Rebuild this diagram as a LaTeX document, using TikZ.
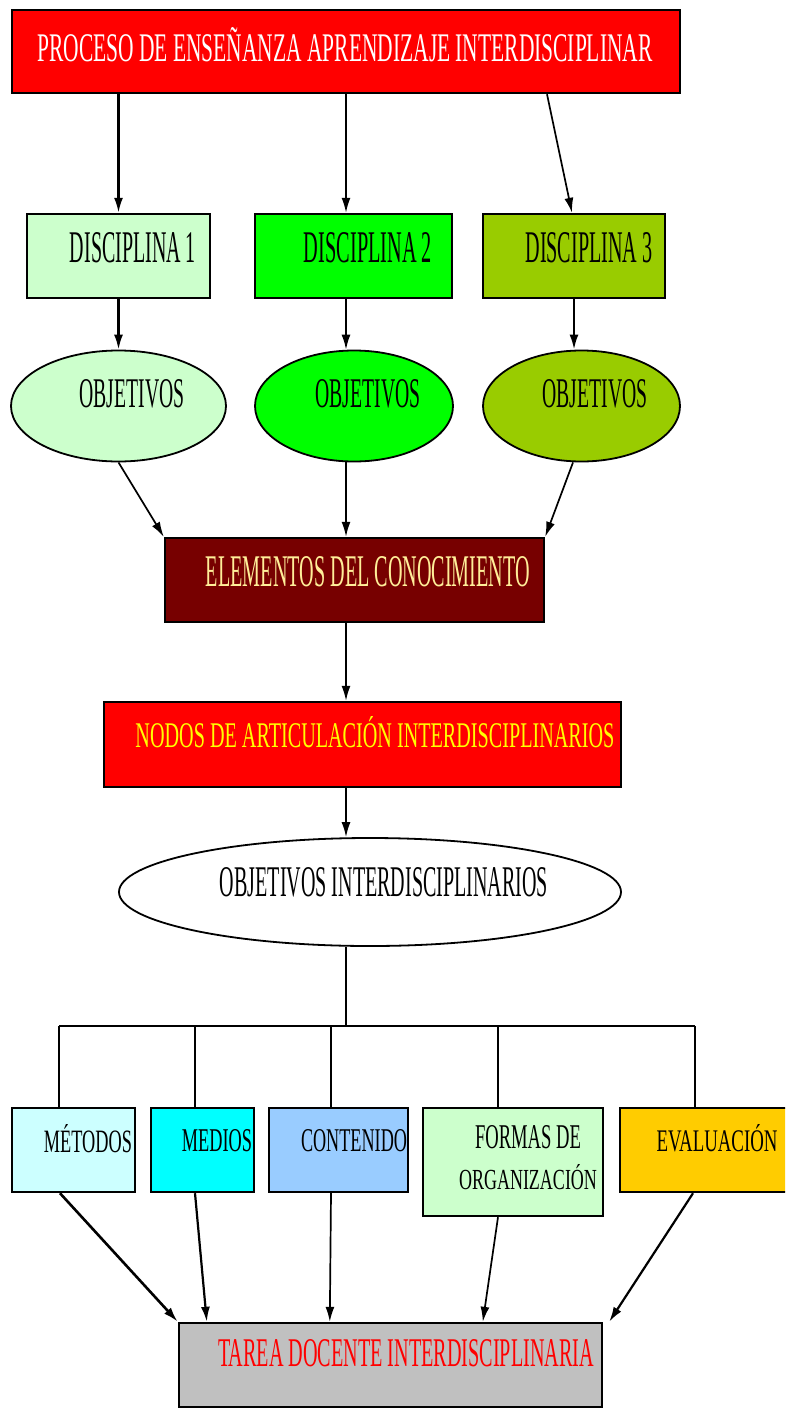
\documentclass[tikz,border=0pt]{standalone}
\usepackage{fontspec}
\setmainfont{Liberation Serif}
\usetikzlibrary{shapes.geometric,arrows.meta}
\definecolor{cRed}{HTML}{FF0000}
\definecolor{cLightGreen}{HTML}{CCFFCC}
\definecolor{cGreen}{HTML}{00FF00}
\definecolor{cOlive}{HTML}{99CC00}
\definecolor{cMaroon}{HTML}{770000}
\definecolor{cPaleYellow}{HTML}{FFEE99}
\definecolor{cYellow}{HTML}{FFFF00}
\definecolor{cLightCyan}{HTML}{CCFFFF}
\definecolor{cCyan}{HTML}{00FFFF}
\definecolor{cSky}{HTML}{99CCFF}
\definecolor{cGold}{HTML}{FFCC00}
\definecolor{cGray}{HTML}{C0C0C0}
\newcommand{\rtxt}[3]{\resizebox{#1pt}{#2pt}{#3}}
\tikzset{
  boxnode/.style={draw=black, line width=2.4pt, rectangle, inner sep=0pt},
  ellnode/.style={draw=black, line width=1.8pt, ellipse, inner sep=0pt},
  txt/.style={inner sep=0pt, anchor=center},
  arr/.style={line width=1.7pt, -{Latex[length=15pt,width=9pt]}},
  plain/.style={line width=1.6pt}
}
\begin{document}
\begin{tikzpicture}[x=1pt,y=-1pt]
\useasboundingbox (0,0) rectangle (785,1410);
\clip (0,0) rectangle (785,1410);
% top
\node[boxnode, fill=cRed, minimum width=668pt, minimum height=83pt] (top) at (346,51.5) {};
\node[txt, text=white] (toptxt) at (345,45) {\rtxt{615}{34}{PROCESO DE ENSEÑANZA APRENDIZAJE INTERDISCIPLINAR}};
% disciplines
\node[boxnode, fill=cLightGreen, minimum width=183pt, minimum height=84pt] (d1) at (118.5,256) {};
\node[boxnode, fill=cGreen, minimum width=197pt, minimum height=84pt] (d2) at (353.5,256) {};
\node[boxnode, fill=cOlive, minimum width=182pt, minimum height=84pt] (d3) at (574,256) {};
\node[txt] (d1t) at (133,248) {\rtxt{126}{30}{DISCIPLINA 1}};
\node[txt] (d2t) at (368,248) {\rtxt{128}{30}{DISCIPLINA 2}};
\node[txt] (d3t) at (589,248) {\rtxt{127}{30}{DISCIPLINA 3}};
% objetivos
\node[ellnode, fill=cLightGreen, minimum width=215pt, minimum height=111pt] (e1) at (118.5,406) {};
\node[ellnode, fill=cGreen, minimum width=198pt, minimum height=111pt] (e2) at (354,406) {};
\node[ellnode, fill=cOlive, minimum width=197pt, minimum height=111pt] (e3) at (581.5,406) {};
\node[txt] (e1t) at (132,394) {\rtxt{105}{28}{OBJETIVOS}};
\node[txt] (e2t) at (368,394) {\rtxt{105}{28}{OBJETIVOS}};
\node[txt] (e3t) at (595,394) {\rtxt{105}{28}{OBJETIVOS}};
% elementos
\node[boxnode, fill=cMaroon, minimum width=379pt, minimum height=84pt] (elem) at (354.5,580) {};
\node[txt, text=cPaleYellow] (elemt) at (368,572) {\rtxt{324}{30}{ELEMENTOS DEL CONOCIMIENTO}};
% nodos
\node[boxnode, fill=cRed, minimum width=517pt, minimum height=85pt] (nodos) at (362.5,744.5) {};
\node[txt, text=cYellow] (nodost) at (375,732) {\rtxt{479}{31}{NODOS DE ARTICULACIÓN INTERDISCIPLINARIOS}};
% objetivos interdisciplinarios
\node[ellnode, fill=white, minimum width=502pt, minimum height=108pt] (oi) at (370,892) {};
\node[txt] (oit) at (384,882) {\rtxt{328}{29}{OBJETIVOS INTERDISCIPLINARIOS}};
% bottom row
\node[boxnode, fill=cLightCyan, minimum width=123pt, minimum height=84pt] (met) at (73.5,1150) {};
\node[boxnode, fill=cCyan, minimum width=103pt, minimum height=84pt] (med) at (202.5,1150) {};
\node[boxnode, fill=cSky, minimum width=139pt, minimum height=84pt] (con) at (338.5,1150) {};
\node[boxnode, fill=cLightGreen, minimum width=180pt, minimum height=108pt] (for) at (513,1162) {};
\node[boxnode, fill=cGold, minimum width=170pt, minimum height=84pt] (eva) at (705,1150) {};
\node[txt] (mett) at (88,1139) {\rtxt{88}{28}{MÉTODOS}};
\node[txt] (medt) at (217,1141) {\rtxt{70}{22}{MEDIOS}};
\node[txt] (cont) at (354,1141) {\rtxt{106}{22}{CONTENIDO}};
\node[txt] (fort1) at (528,1137.5) {\rtxt{106}{23}{FORMAS DE}};
\node[txt] (fort2) at (528,1177.5) {\rtxt{138}{25}{ORGANIZACIÓN}};
\node[txt] (evat) at (717,1138.5) {\rtxt{121}{27}{EVALUACIÓN}};
% tarea
\node[boxnode, fill=cGray, minimum width=423pt, minimum height=84pt] (tarea) at (390.5,1365) {};
\node[txt, text=cRed] (tareat) at (406,1353.5) {\rtxt{376}{27}{TAREA DOCENTE INTERDISCIPLINARIA}};
% connectors top
\draw[arr, line width=2.2pt] (d1.north |- top.south) -- (d1.north);
\draw[arr] ([xshift=-7.5pt]d2.north |- top.south) -- ([xshift=-7.5pt]d2.north);
\draw[arr] ([xshift=201pt]top.south) -- ([xshift=-2pt]d3.north);
\draw[arr, line width=2.2pt] (d1.south) -- (e1.north);
\draw[arr] ([xshift=-7.5pt]d2.south) -- ([xshift=-8pt]e2.north);
\draw[arr, line width=2.2pt] (d3.south) -- ([xshift=-7.5pt]e3.north);
\draw[arr] (e1.south) -- (elem.north west);
\draw[arr] ([xshift=-8pt]e2.south) -- ([xshift=-8.5pt]elem.north);
\draw[arr] ([xshift=-8.5pt]e3.south) -- (elem.north east);
\draw[arr] ([xshift=-8.5pt]elem.south) -- ([xshift=-16.5pt]nodos.north);
\draw[arr] ([xshift=-16.5pt]nodos.south) -- ([xshift=-24pt]oi.north);
% bus
\coordinate (busL) at (59,1026);
\coordinate (busR) at (695,1026);
\coordinate (busM) at (346,1026);
\draw[plain] ([xshift=-24pt]oi.south) -- (busM);
\draw[plain, line width=2pt] (busL) -- (busR);
\coordinate (dp1) at ([xshift=-14.5pt]met.north);
\coordinate (dp2) at ([xshift=-7.5pt]med.north);
\coordinate (dp3) at ([xshift=-7.5pt]con.north);
\coordinate (dp4) at ([xshift=-15pt]for.north);
\coordinate (dp5) at ([xshift=-10pt]eva.north);
\foreach \p in {dp1,dp2,dp3,dp4,dp5} { \draw[plain] (\p) -- (\p |- busL); }
% arrows to tarea
\draw[arr, line width=2.6pt] ([xshift=-13.5pt]met.south) -- (tarea.north west);
\draw[arr, line width=2.2pt] ([xshift=-7.5pt]med.south) -- ([xshift=29pt]tarea.north west);
\draw[arr] ([xshift=-7.5pt]con.south) -- ([xshift=152pt]tarea.north west);
\draw[arr] ([xshift=-15pt]for.south) -- ([xshift=305pt]tarea.north west);
\draw[arr, line width=2.2pt] ([xshift=-12pt]eva.south) -- ([xshift=6pt]tarea.north east);
\end{tikzpicture}
\end{document}
